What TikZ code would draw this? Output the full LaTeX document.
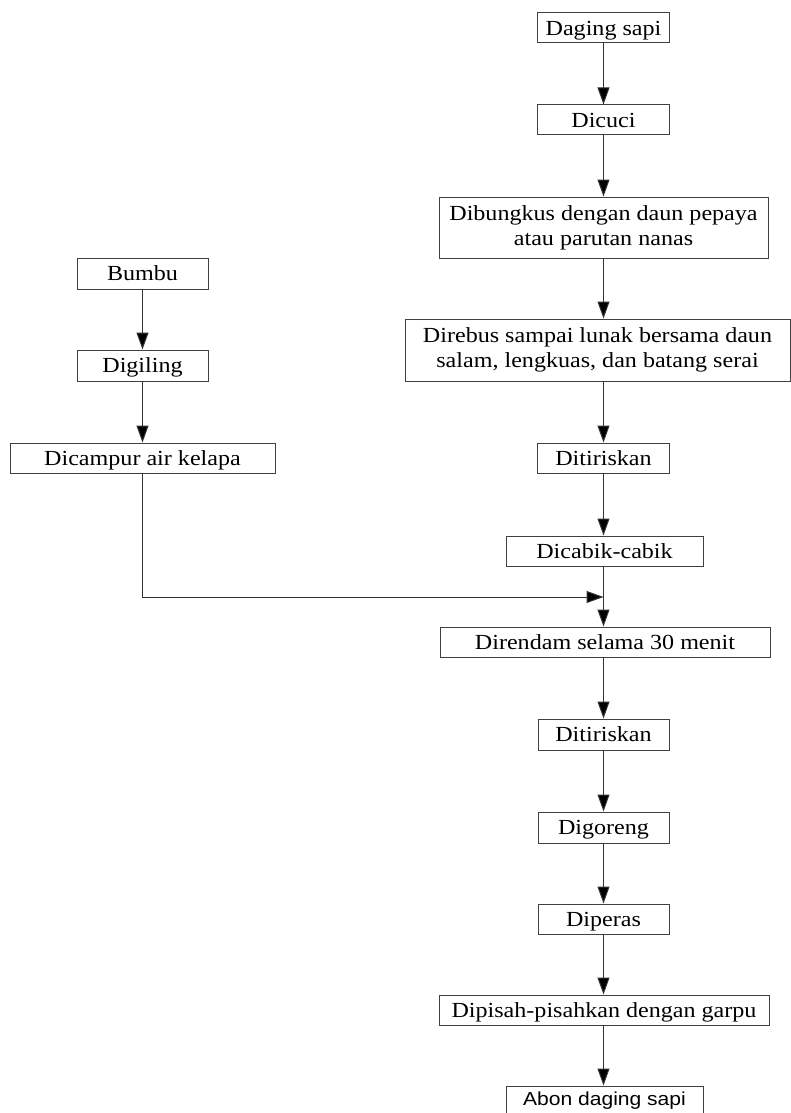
\documentclass[tikz,border=0pt]{standalone}
\usepackage{fontspec}
\setmainfont{Liberation Serif}[FakeStretch=1.12]
\newfontfamily\abonsans{Liberation Sans}[FakeStretch=1.12]
\usetikzlibrary{arrows.meta}
\begin{document}
\begin{tikzpicture}[x=1pt,y=-1pt,
  box/.style={draw=black!75, line width=1pt, fill=white, inner sep=0pt,
    font=\fontsize{21.5}{25}\selectfont, text height=14.5pt, text depth=0pt},
  twoline/.style={box, align=center, text height=, text depth=},
  arr/.style={draw=black!80, line width=1pt, -{Triangle[length=17pt,width=12pt,fill=black]}},
  ln/.style={draw=black!80, line width=1pt}]
\useasboundingbox (0,0) rectangle (791,1113);
\clip (0,0) rectangle (791,1113);
% main column
\node[box, minimum width=132pt, minimum height=30pt] (daging) at (603.5,28) {Daging sapi};
\node[box, minimum width=132pt, minimum height=30pt] (dicuci) at (603.5,120) {Dicuci};
\node[twoline, minimum width=329pt, minimum height=61pt] (bungkus) at (603.5,227.5) {Dibungkus dengan daun pepaya\\atau parutan nanas};
\node[twoline, minimum width=385pt, minimum height=62pt] (rebus) at (597.5,350) {Direbus sampai lunak bersama daun\\salam, lengkuas, dan batang serai};
\node[box, minimum width=132pt, minimum height=30pt] (tiris1) at (603.5,458) {Ditiriskan};
\node[box, minimum width=197pt, minimum height=30pt] (cabik) at (604.5,551) {Dicabik-cabik};
\node[box, minimum width=330pt, minimum height=30pt] (rendam) at (605,642) {Direndam selama 30 menit};
\node[box, minimum width=131pt, minimum height=31pt] (tiris2) at (603.5,734.5) {Ditiriskan};
\node[box, minimum width=131pt, minimum height=31pt] (goreng) at (603.5,827.5) {Digoreng};
\node[box, minimum width=131pt, minimum height=30pt] (peras) at (603.5,919) {Diperas};
\node[box, minimum width=330pt, minimum height=30pt] (pisah) at (604,1010) {Dipisah-pisahkan dengan garpu};
\node[box, minimum width=197pt, minimum height=44pt, font=\abonsans\fontsize{18.8}{22}\selectfont, text height=14pt, text depth=19pt] (abon) at (604.5,1108) {Abon daging sapi};
% left column
\node[box, minimum width=131pt, minimum height=31pt] (bumbu) at (142.5,273.5) {Bumbu};
\node[box, minimum width=131pt, minimum height=31pt] (giling) at (142.5,365.5) {Digiling};
\node[box, minimum width=265pt, minimum height=30pt] (campur) at (142.5,458) {Dicampur air kelapa};
\coordinate (join) at (603.5,597);
% connectors
\draw[arr] (daging.south) -- (dicuci.north);
\draw[arr] (dicuci.south) -- (bungkus.north);
\draw[arr] (bungkus.south) -- (bungkus.south |- rebus.north);
\draw[arr] (bungkus.south |- rebus.south) -- (tiris1.north);
\draw[arr] (tiris1.south) -- (tiris1.south |- cabik.north);
\draw[ln] (tiris1.south |- cabik.south) -- (join);
\draw[arr] (join) -- (join |- rendam.north);
\draw[arr] (campur.south) |- (join);
\draw[arr] (join |- rendam.south) -- (join |- tiris2.north);
\draw[arr] (tiris2.south) -- (goreng.north);
\draw[arr] (goreng.south) -- (peras.north);
\draw[arr] (peras.south) -- (peras.south |- pisah.north);
\draw[arr] (peras.south |- pisah.south) -- (peras.south |- abon.north);
\draw[arr] (bumbu.south) -- (giling.north);
\draw[arr] (giling.south) -- (campur.north);
\end{tikzpicture}
\end{document}
